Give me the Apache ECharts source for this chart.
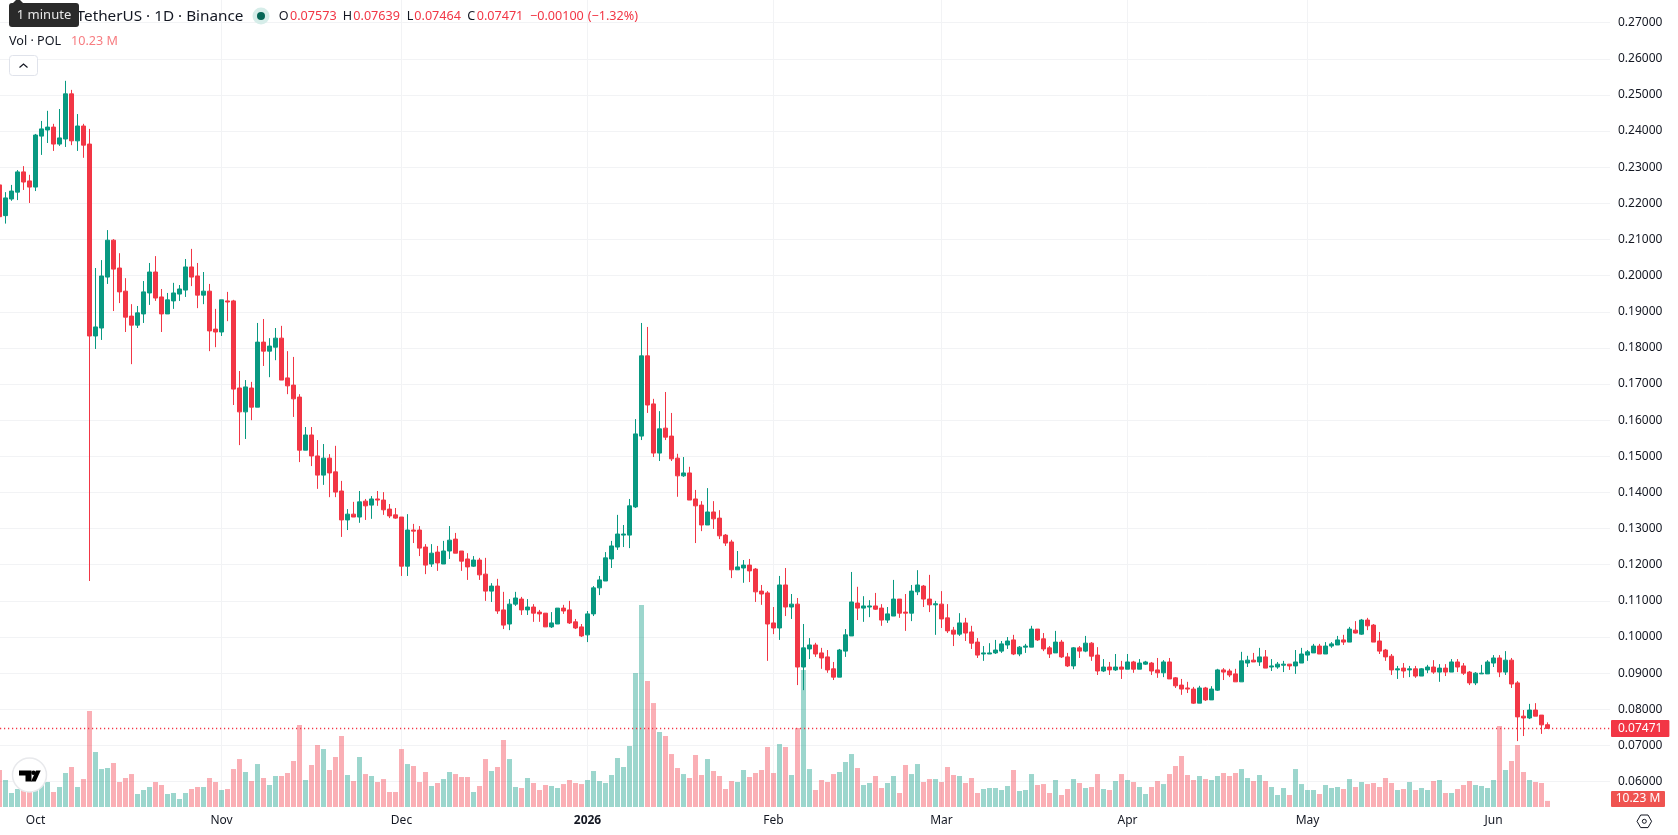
<!DOCTYPE html>
<html>
<head>
<meta charset="utf-8">
<title>POL / TetherUS · 1D · Binance</title>
<style>
  html, body { margin: 0; padding: 0; background: #fff; overflow: hidden; }
  #chart { width: 1678px; height: 835px; }
</style>
<script src="https://cdn.jsdelivr.net/npm/echarts@6/dist/echarts.min.js"></script>
</head>
<body>
<div id="chart"></div>
<script>
// Daily POL/USDT candles, one entry per day starting 25 Sep 2025.
const opens = [
  .2251,.2166,.2212,.2231,.2287,.2262,.2245,.2386,.2403,.2411,
  .2364,.2378,.2503,.2373,.2414,.2364,.1833,.1855,.1996,.2098,
  .2021,.1957,.1888,.1863,.1894,.1952,.2010,.1941,.1894,.1930,
  .1949,.1960,.2024,.1999,.1946,.1957,.1852,.1844,.1930,.1930,
  .1689,.1623,.1689,.1636,.1816,.1791,.1802,.1827,.1717,.1697,
  .1664,.1517,.1559,.1501,.1448,.1495,.1457,.1404,.1324,.1340,
  .1332,.1376,.1365,.1382,.1379,.1354,.1338,.1332,.1196,.1296,
  .1296,.1249,.1202,.1235,.1202,.1238,.1271,.1238,.1216,.1196,
  .1213,.1174,.1127,.1141,.1075,.1036,.1091,.1105,.1075,.1083,
  .1069,.1066,.1028,.1036,.1080,.1075,.1042,.1028,.1006,.1064,
  .1136,.1155,.1216,.1249,.1282,.1282,.1360,.1556,.1778,.1645,
  .1509,.1578,.1556,.1495,.1446,.1454,.1382,.1365,.1310,.1346,
  .1329,.1282,.1263,.1186,.1191,.1199,.1188,.1127,.1122,.1039,
  .1025,.1144,.1083,.1091,.0917,.0967,.0978,.0956,.0945,.0912,
  .0889,.0961,.1003,.1094,.1080,.1083,.1086,.1080,.1047,.1058,
  .1105,.1069,.1066,.1125,.1141,.1105,.1089,.1091,.1053,.1019,
  .1008,.1039,.1014,.0986,.0953,.0953,.0956,.0961,.0978,.0992,
  .0953,.0972,.0972,.1022,.0995,.0970,.0956,.0986,.0945,.0920,
  .0970,.0961,.0983,.0950,.0906,.0917,.0909,.0917,.0911,.0931,
  .0911,.0925,.0928,.0909,.0901,.0931,.0887,.0867,.0859,.0856,
  .0817,.0859,.0826,.0853,.0909,.0906,.0898,.0876,.0928,.0936,
  .0931,.0945,.0917,.0917,.0922,.0925,.0920,.0928,.0950,.0956,
  .0975,.0953,.0975,.0978,.0992,.0986,.1019,.1008,.1047,.1033,
  .0989,.0964,.0947,.0909,.0914,.0909,.0912,.0892,.0909,.0917,
  .0903,.0914,.0903,.0931,.0920,.0903,.0873,.0898,.0898,.0928,
  .0942,.0903,.0936,.0873,.0781,.0776,.0798,.0784,.07573
];
const closes = [
  .2163,.2215,.2234,.2287,.2259,.2245,.2389,.2406,.2411,.2364,
  .2381,.2503,.2373,.2414,.2361,.1833,.1858,.1999,.2098,.2018,
  .1955,.1885,.1863,.1897,.1955,.2010,.1938,.1894,.1933,.1952,
  .1963,.2024,.1996,.1946,.1957,.1847,.1844,.1933,.1927,.1686,
  .1623,.1692,.1636,.1816,.1791,.1805,.1827,.1711,.1695,.1659,
  .1517,.1559,.1501,.1448,.1495,.1454,.1401,.1324,.1340,.1332,
  .1374,.1363,.1382,.1379,.1352,.1335,.1329,.1196,.1296,.1293,
  .1246,.1199,.1232,.1205,.1238,.1268,.1232,.1210,.1194,.1213,
  .1172,.1127,.1141,.1072,.1033,.1091,.1108,.1075,.1083,.1066,
  .1064,.1028,.1039,.1080,.1072,.1039,.1025,.1003,.1064,.1136,
  .1158,.1219,.1252,.1285,.1285,.1363,.1562,.1778,.1642,.1509,
  .1576,.1553,.1493,.1446,.1454,.1379,.1363,.1310,.1346,.1327,
  .1280,.1260,.1186,.1194,.1199,.1183,.1125,.1119,.1036,.1025,
  .1144,.1083,.1091,.0917,.0970,.0978,.0953,.0942,.0909,.0889,
  .0964,.1006,.1097,.1080,.1086,.1086,.1077,.1047,.1064,.1105,
  .1066,.1066,.1127,.1144,.1105,.1089,.1092,.1050,.1017,.1008,
  .1039,.1011,.0983,.0950,.0956,.0956,.0964,.0981,.0989,.0953,
  .0972,.0975,.1022,.0992,.0967,.0953,.0986,.0945,.0920,.0970,
  .0961,.0983,.0947,.0906,.0917,.0909,.0917,.0911,.0931,.0911,
  .0928,.0931,.0906,.0901,.0931,.0884,.0865,.0856,.0856,.0817,
  .0859,.0826,.0856,.0909,.0903,.0895,.0876,.0934,.0936,.0931,
  .0945,.0914,.0920,.0925,.0925,.0920,.0931,.0953,.0959,.0975,
  .0953,.0975,.0981,.0992,.0986,.1022,.1011,.1047,.1031,.0986,
  .0961,.0945,.0909,.0912,.0906,.0912,.0892,.0912,.0917,.0903,
  .0914,.0903,.0931,.0917,.0900,.0873,.0900,.0900,.0931,.0942,
  .0903,.0936,.0870,.0779,.0776,.0798,.0781,.0757,.07471
];
const highs = [
  .2255,.2231,.2251,.2292,.2303,.2279,.2392,.2428,.2456,.2420,
  .2461,.2539,.2514,.2447,.2420,.2406,.2021,.2043,.2126,.2101,
  .2062,.1993,.1921,.1916,.1985,.2035,.2054,.1963,.1952,.1980,
  .1974,.2046,.2074,.2035,.2010,.1977,.1908,.1933,.1955,.1933,
  .1736,.1711,.1706,.1869,.1880,.1827,.1855,.1861,.1791,.1775,
  .1672,.1581,.1581,.1545,.1534,.1506,.1529,.1432,.1354,.1374,
  .1404,.1382,.1390,.1404,.1401,.1368,.1357,.1332,.1340,.1313,
  .1307,.1257,.1257,.1252,.1266,.1307,.1288,.1238,.1232,.1224,
  .1219,.1219,.1149,.1161,.1125,.1105,.1125,.1111,.1105,.1091,
  .1075,.1066,.1069,.1080,.1089,.1100,.1050,.1036,.1072,.1141,
  .1169,.1235,.1266,.1338,.1310,.1382,.1603,.1869,.1858,.1659,
  .1625,.1678,.1620,.1507,.1498,.1471,.1407,.1376,.1412,.1376,
  .1351,.1285,.1269,.1238,.1213,.1216,.1191,.1144,.1127,.1083,
  .1169,.1191,.1119,.1108,.1036,.0997,.0984,.0970,.0964,.0931,
  .0967,.1022,.1180,.1139,.1113,.1102,.1122,.1091,.1083,.1158,
  .1105,.1119,.1144,.1185,.1144,.1172,.1100,.1127,.1091,.1028,
  .1066,.1053,.1031,.0997,.0975,.0983,.0992,.0989,.1000,.1006,
  .0975,.0981,.1031,.1022,.1011,.0975,.1017,.0992,.0956,.0972,
  .0975,.1003,.0986,.0972,.0939,.0931,.0953,.0934,.0953,.0934,
  .0939,.0934,.0931,.0942,.0936,.0942,.0889,.0884,.0876,.0862,
  .0865,.0862,.0864,.0912,.0914,.0912,.0912,.0959,.0948,.0956,
  .0970,.0964,.0939,.0931,.0934,.0925,.0964,.0970,.0964,.0981,
  .0981,.0986,.0986,.1003,.1006,.1028,.1044,.1050,.1053,.1036,
  .1014,.0967,.0953,.0920,.0928,.0920,.0920,.0914,.0923,.0936,
  .0925,.0925,.0939,.0939,.0928,.0906,.0903,.0923,.0936,.0950,
  .0950,.0961,.0942,.0878,.0798,.0815,.0817,.0784,.07639
];
const lows = [
  .2150,.2144,.2207,.2209,.2237,.2201,.2234,.2334,.2367,.2345,
  .2359,.2356,.2361,.2345,.2326,.1155,.1797,.1822,.1977,.1902,
  .1924,.1844,.1755,.1855,.1869,.1919,.1930,.1844,.1894,.1908,
  .1930,.1941,.1971,.1910,.1921,.1791,.1802,.1833,.1874,.1642,
  .1531,.1548,.1600,.1636,.1750,.1719,.1766,.1711,.1672,.1609,
  .1484,.1517,.1473,.1410,.1421,.1387,.1387,.1277,.1296,.1332,
  .1316,.1324,.1327,.1363,.1338,.1329,.1327,.1169,.1169,.1260,
  .1224,.1174,.1194,.1183,.1202,.1216,.1232,.1183,.1158,.1194,
  .1158,.1100,.1097,.1064,.1022,.1019,.1086,.1061,.1061,.1042,
  .1042,.1028,.1025,.1036,.1064,.1036,.1022,.1000,.0986,.1058,
  .1116,.1155,.1191,.1241,.1249,.1246,.1357,.1545,.1620,.1498,
  .1487,.1545,.1487,.1388,.1443,.1379,.1260,.1293,.1310,.1299,
  .1271,.1252,.1163,.1186,.1150,.1152,.1097,.1089,.0934,.1008,
  .0992,.1058,.1050,.0867,.0853,.0939,.0945,.0912,.0901,.0881,
  .0889,.0945,.1003,.1047,.1042,.1055,.1075,.1031,.1039,.1058,
  .1053,.1017,.1044,.1116,.1083,.1069,.1006,.1025,.1011,.0975,
  .1003,.0989,.0967,.0942,.0934,.0953,.0953,.0956,.0967,.0950,
  .0947,.0956,.0972,.0989,.0961,.0942,.0956,.0942,.0917,.0911,
  .0942,.0958,.0934,.0895,.0903,.0895,.0906,.0884,.0911,.0901,
  .0911,.0923,.0895,.0887,.0889,.0884,.0859,.0840,.0845,.0815,
  .0817,.0823,.0826,.0851,.0881,.0889,.0876,.0876,.0917,.0931,
  .0920,.0914,.0906,.0912,.0903,.0909,.0898,.0928,.0934,.0956,
  .0953,.0953,.0970,.0978,.0978,.0986,.1010,.1006,.1019,.0986,
  .0953,.0934,.0895,.0884,.0887,.0889,.0887,.0892,.0900,.0898,
  .0876,.0892,.0903,.0903,.0895,.0867,.0867,.0898,.0898,.0917,
  .0889,.0895,.0859,.0712,.0726,.0773,.0781,.0732,.07464
];
// Traded volume in millions of POL.
const volumes = [
  62.2,45.4,23.5,30.2,28.6,25.2,30.2,37,42,25.2,
  33.6,57.1,67.2,33.6,47,161.3,92.4,63.8,65.5,73.9,
  42,48.7,55.4,21.8,28.6,33.6,42,37,21.8,23.5,
  13.4,23.5,30.2,33.6,33.6,48.7,42,28.6,30.2,63.8,
  80.6,58.8,43.7,72.2,48.7,37,52.1,52.1,57.1,77.3,
  137.8,45.4,70.6,104.2,97.4,62.2,84,119.3,53.8,43.7,
  84,55.4,52.1,42,47,25.2,25.2,97.4,72.2,68.9,
  42,58.8,35.3,40.3,47,58.8,55.4,50.4,50.4,25.2,
  35.3,80.6,60.5,67.2,112.6,80.6,33.6,31.9,48.7,40.3,
  28.6,37,35.3,31.9,38.6,45.4,40.3,38.6,45.4,60.5,
  43.7,40.3,53.8,82.3,67.2,102.5,225.1,339.4,211.7,174.7,
  126,119.3,89,65.5,55.4,48.7,87.4,53.8,80.6,60.5,
  52.1,30.2,43.7,42,62.2,50.4,57.1,62.2,100.8,57.1,
  105.8,100.8,53.8,132.7,230.2,63.8,28.6,45.4,42,55.4,
  58.8,75.6,89,65.5,37,40.3,52.1,31.9,40.3,52.1,
  23.5,70.6,55.4,72.2,42,47,47,42,67.2,53.8,
  52.1,40.3,48.7,23.5,30.2,31.9,31.9,28.6,35.3,62.2,
  26.9,28.6,55.4,37,38.6,23.5,45.4,20.2,30.2,47,
  40.3,31.9,33.6,55.4,30.2,28.6,43.7,55.4,45.4,42,
  33.6,21.8,33.6,43.7,38.6,55.4,68.9,85.7,53.8,45.4,
  52.1,47,45.4,52.1,57.1,52.1,57.1,63.8,48.7,43.7,
  53.8,43.7,33.6,20.2,31.9,20.2,63.8,38.6,28.6,28.6,
  21.8,37,31.9,33.6,30.2,47,33.6,42,38.6,40.3,
  33.6,48.7,40.3,28.6,30.2,42,28.6,31.9,28.6,43.7,
  45.4,23.5,23.5,30.2,37,43.7,37,35.3,31.9,45.4,
  136.1,62.2,77.3,104.2,58.8,45.4,42,40.3,10.23
];
// Month starts on the time scale, with the first calendar day of the list as day 0.
const FIRST_DAY = Date.UTC(2025, 8, 25);
const monthTicks = [
  [2025, 9, 'Oct'], [2025, 10, 'Nov'], [2025, 11, 'Dec'], [2026, 0, '2026'],
  [2026, 1, 'Feb'], [2026, 2, 'Mar'], [2026, 3, 'Apr'], [2026, 4, 'May'], [2026, 5, 'Jun']
];
const ohlcLegend = [['O', '0.07573'], ['H', '0.07639'], ['L', '0.07464'], ['C', '0.07471']];
const changeText = '\u22120.00100';
const changePctText = '(\u22121.32%)';

const UP = '#089981', DOWN = '#F23645', GRID = '#F2F3F5', INK = '#131722';
const FONT = '"Noto Sans", sans-serif';
const DAY = 86400000;
const PLOT_WIDTH = 1610;
const DAY_WIDTH = 6;

const dayNumbers = opens.map((_, i) => i);
const axisMin = 0.5 / DAY_WIDTH;
const axisMax = axisMin + PLOT_WIDTH / DAY_WIDTH;
const dayOf = m => (Date.UTC(m[0], m[1], 1) - FIRST_DAY) / DAY;
const tickDays = monthTicks.map(dayOf);
const tickNames = new Map(monthTicks.map(m => [dayOf(m), m[2]]));

const candleRows = dayNumbers.map(d => [d, opens[d], closes[d], lows[d], highs[d]]);
const volumeRows = dayNumbers.map(d => [d, volumes[d]]);
const lastClose = closes[closes.length - 1];
const lastVolume = volumes[volumes.length - 1];

// Legend row across the top, laid out run by run.
const headerItems = [];
const addText = (x, y, text, size, fill, extra) => headerItems.push({
  type: 'text', x, y, z: 20,
  style: Object.assign({ text, fill, font: size + 'px ' + FONT, textVerticalAlign: 'middle' }, extra || {})
});
addText(243.5, 16.5, 'POL / TetherUS \u00b7 1D \u00b7 Binance', 15.3, INK, { textAlign: 'right' });
const ohlcX = [[278.7, 290], [342.7, 353.3], [406.7, 414.3], [467.3, 476.7]];
ohlcLegend.forEach((row, i) => {
  addText(ohlcX[i][0], 16.5, row[0], 12.6, INK);
  addText(ohlcX[i][1], 16.5, row[1], 12.6, DOWN);
});
addText(530, 16.5, changeText, 12.6, DOWN);
addText(587.7, 16.5, changePctText, 12.6, DOWN);
addText(9, 41, 'Vol \u00b7 POL', 12.6, INK);
addText(71, 41, lastVolume.toFixed(2) + ' M', 12.6, '#F77C80');

const chrome = [
  // status dot
  { type: 'circle', z: 20, shape: { cx: 261, cy: 16, r: 8.5 }, style: { fill: '#D6EDE9' } },
  { type: 'circle', z: 21, shape: { cx: 261, cy: 16, r: 4 }, style: { fill: '#056656' } },
  // interval tooltip
  { type: 'polygon', z: 30, shape: { points: [[12, 4], [16, 0], [20, 0], [24, 4]] }, style: { fill: '#2A2A2A' } },
  { type: 'rect', z: 30, shape: { x: 9, y: 3, width: 70, height: 24, r: 3 }, style: { fill: '#2A2A2A' } },
  { type: 'text', z: 31, x: 44, y: 15.5, style: { text: '1 minute', fill: '#E8E8E8', font: '13px ' + FONT, textAlign: 'center', textVerticalAlign: 'middle' } },
  // collapse button
  { type: 'rect', z: 20, shape: { x: 9.5, y: 55.5, width: 28, height: 20, r: 3 }, style: { fill: '#fff', stroke: '#E0E3EB', lineWidth: 1 } },
  { type: 'polyline', z: 21, shape: { points: [[19.5, 67.5], [23.5, 64], [27.5, 67.5]] }, style: { stroke: INK, lineWidth: 1.2, fill: 'none' } },
  // brand badge
  { type: 'circle', z: 20, shape: { cx: 29.5, cy: 775, r: 17 }, style: { fill: '#fff', stroke: '#E8E9EC', lineWidth: 1.5 } },
  { type: 'polygon', z: 21, shape: { points: [[19, 770.5], [31.5, 770.5], [31.5, 781.5], [25.5, 781.5], [25.5, 775.5], [19, 775.5]] }, style: { fill: '#000' } },
  { type: 'circle', z: 21, shape: { cx: 33.5, cy: 772.8, r: 2.3 }, style: { fill: '#000' } },
  { type: 'polygon', z: 21, shape: { points: [[36, 770.5], [40.7, 770.5], [35.7, 781.5], [31, 781.5]] }, style: { fill: '#000' } },
  // volume tag on the price scale
  { type: 'rect', z: 20, shape: { x: 1611, y: 791, width: 54, height: 16, r: 1 }, style: { fill: '#EF5350' } },
  { type: 'text', z: 21, x: 1638, y: 799, style: { text: lastVolume.toFixed(2) + ' M', fill: '#fff', font: '12px ' + FONT, textAlign: 'center', textVerticalAlign: 'middle' } },
  // scale settings icon
  { type: 'polygon', z: 20, shape: { points: [[1637, 821.3], [1640.7, 815], [1648, 815], [1651.6, 821.3], [1648, 827.6], [1640.7, 827.6]] }, style: { fill: 'none', stroke: INK, lineWidth: 1 } },
  { type: 'circle', z: 20, shape: { cx: 1644.3, cy: 821.3, r: 2 }, style: { fill: 'none', stroke: INK, lineWidth: 1 } }
];

const chart = echarts.init(document.getElementById('chart'), null, { renderer: 'canvas' });
chart.setOption({
  animation: false,
  backgroundColor: '#fff',
  textStyle: { fontFamily: FONT },
  graphic: { elements: headerItems.concat(chrome) },
  grid: [
    // price pane: 0.05 and 0.28 sit just outside the visible page
    { left: 0, top: -13.5, width: PLOT_WIDTH, height: 831.22, outerBoundsMode: 'none' },
    // volume pane shares the same box down to the time scale
    { left: 0, top: 0, width: PLOT_WIDTH, height: 807, outerBoundsMode: 'none' }
  ],
  xAxis: [
    { type: 'value', gridIndex: 0, min: axisMin, max: axisMax, show: false, splitLine: { show: false } },
    {
      type: 'value', gridIndex: 1, min: axisMin, max: axisMax,
      axisLine: { show: false },
      axisTick: { show: false, customValues: tickDays },
      splitLine: { show: true, showMinLine: false, showMaxLine: false, lineStyle: { color: GRID, width: 1 } },
      axisLabel: {
        customValues: tickDays,
        margin: 8, fontSize: 12, color: INK, fontFamily: FONT,
        formatter: v => {
          const name = tickNames.get(+v);
          return name === '2026' ? '{year|2026}' : name;
        },
        rich: { year: { fontWeight: 'bold', fontSize: 12, color: INK, fontFamily: FONT } }
      }
    }
  ],
  yAxis: [
    {
      type: 'value', gridIndex: 0, position: 'right', min: 0.05, max: 0.28, interval: 0.01,
      axisLine: { show: false }, axisTick: { show: false },
      splitLine: { show: true, showMinLine: false, showMaxLine: false, lineStyle: { color: GRID, width: 1 } },
      axisLabel: { showMinLabel: false, showMaxLabel: false, margin: 8, fontSize: 12, color: INK, fontFamily: FONT, formatter: v => v.toFixed(5) }
    },
    { type: 'value', gridIndex: 1, min: 0, max: 1356, show: false, splitLine: { show: false } }
  ],
  series: [
    {
      type: 'bar', name: 'Vol', xAxisIndex: 1, yAxisIndex: 1, data: volumeRows, barWidth: 5,
      itemStyle: {
        color: p => closes[p.dataIndex] >= opens[p.dataIndex] ? 'rgba(8,153,129,0.4)' : 'rgba(242,54,69,0.4)'
      },
      silent: true
    },
    {
      type: 'candlestick', name: 'POL/USDT', xAxisIndex: 0, yAxisIndex: 0, data: candleRows, barWidth: 4,
      encode: { x: 0, y: [1, 2, 3, 4] },
      itemStyle: { color: UP, color0: DOWN, borderColor: UP, borderColor0: DOWN, borderWidth: 1 },
      markLine: {
        silent: true, symbol: 'none', animation: false, precision: 5,
        data: [{ yAxis: lastClose }],
        lineStyle: { color: DOWN, type: [1.2, 2.8], width: 1.3 },
        label: {
          show: true, position: 'end', distance: 1,
          formatter: () => lastClose.toFixed(5),
          backgroundColor: DOWN, color: '#fff', fontSize: 12, fontFamily: FONT,
          padding: [3, 7, 2, 7], borderRadius: 1
        }
      }
    }
  ]
});
</script>
</body>
</html>
